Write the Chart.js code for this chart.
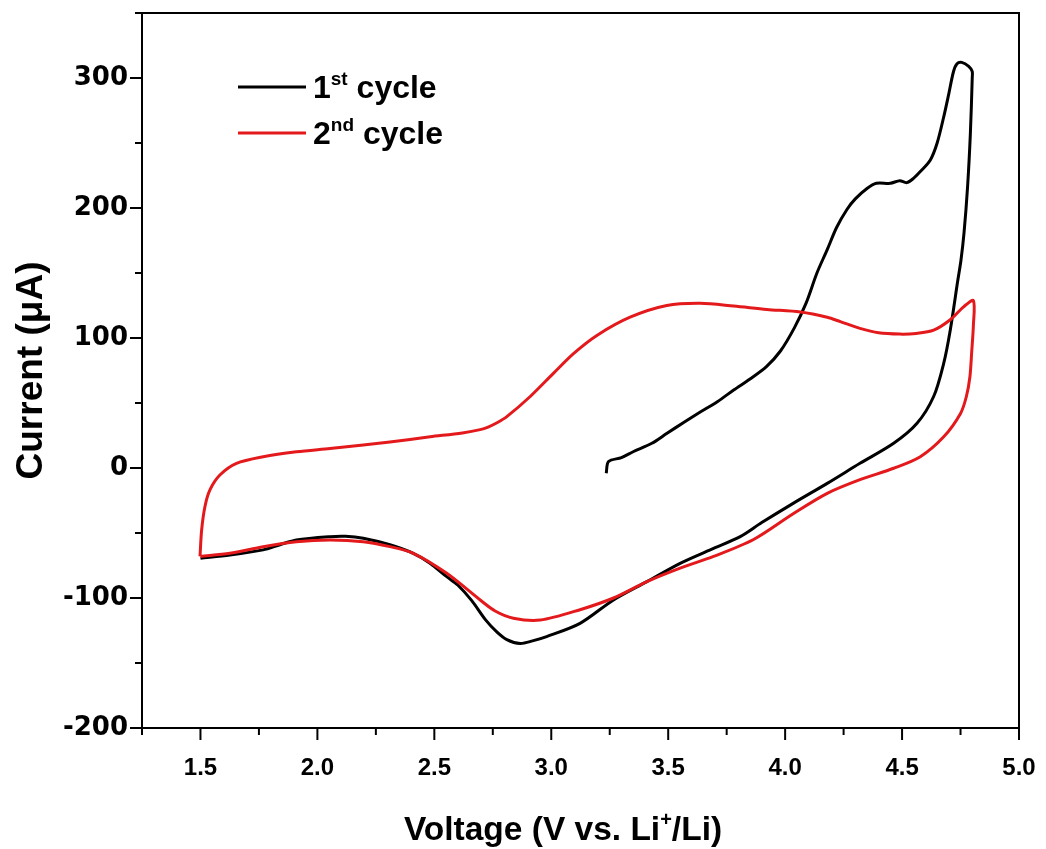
<!DOCTYPE html>
<html>
<head>
<meta charset="utf-8">
<script src="https://cdn.jsdelivr.net/npm/chart.js@4.4.1/dist/chart.umd.min.js"></script>
<style>
  html, body { margin: 0; padding: 0; background: #fff; }
</style>
</head>
<body>
<canvas id="cvChart" width="1046" height="849"></canvas>
<script>
// 1st cycle (black): OCV -> 4.8 V -> 1.5 V
const cycle1V = [3.235, 3.245, 3.30, 3.35, 3.43, 3.495, 3.566, 3.637, 3.71, 3.78, 3.85, 3.92, 3.98, 4.04, 4.09, 4.136, 4.18, 4.22, 4.265, 4.30, 4.35, 4.39, 4.45, 4.49, 4.52, 4.55, 4.578, 4.621, 4.65, 4.678, 4.70, 4.72, 4.735, 4.755, 4.785, 4.80,
                 4.80, 4.792, 4.78, 4.765, 4.752, 4.738, 4.706, 4.678, 4.635, 4.564, 4.464, 4.32, 4.18, 4.036, 3.90, 3.808, 3.694, 3.551, 3.409, 3.266, 3.123, 2.98, 2.92, 2.867, 2.81, 2.767, 2.72, 2.66, 2.60, 2.553, 2.48, 2.41, 2.31, 2.196, 2.12, 2.054, 1.91, 1.84, 1.768, 1.626, 1.50];
const cycle1I = [-4, 5, 8, 12.5, 19, 26.7, 35, 43, 51, 60, 68.5, 78, 90, 108, 127, 150, 168, 185, 199, 207, 215, 219, 219, 221, 219.5, 223, 228, 237, 250, 270, 288, 305, 311, 312, 309, 305,
                 300, 257, 216, 181, 160, 144, 106, 80.5, 55, 34.4, 19, 3.6, -11.8, -27, -42, -52.8, -61.8, -73.3, -87.4, -101.5, -119.5, -129.7, -133, -135, -132, -126, -117, -102, -90, -83.6, -73, -65.6, -59, -54, -52.5, -52.8, -55.4, -59, -63, -67, -69.5];

// 2nd cycle (red): 1.5 V -> 4.8 V -> 1.5 V
const cycle2V = [1.498, 1.505, 1.519, 1.54, 1.583, 1.654, 1.768, 1.91, 2.054, 2.196, 2.31, 2.482, 2.62, 2.696, 2.73, 2.77, 2.81, 2.91, 3.009, 3.095, 3.195, 3.337, 3.494, 3.637, 3.78, 3.922, 4.065, 4.18, 4.236, 4.32, 4.40, 4.49, 4.56, 4.635, 4.706, 4.763, 4.805,
                 4.805, 4.798, 4.79, 4.775, 4.75, 4.678, 4.578, 4.464, 4.32, 4.18, 4.036, 3.865, 3.694, 3.551, 3.409, 3.266, 3.123, 2.953, 2.838, 2.76, 2.696, 2.553, 2.41, 2.31, 2.196, 2.054, 1.91, 1.768, 1.626, 1.50];
const cycle2I = [-68, -47.7, -29.8, -17, -5.4, 3.6, 8.7, 12.5, 15, 17.7, 20, 24, 27, 29.5, 31.5, 35, 39.5, 55, 72.8, 88, 102, 116, 125, 126.7, 124.6, 122, 120, 116, 112.6, 107.4, 104, 103, 103.5, 106, 114, 124, 128.7,
                 110, 90, 70, 55, 42, 24, 8.7, -0.2, -9, -19.5, -35, -55, -68, -77, -87.4, -100, -109, -117, -115.6, -110, -101.5, -81, -65.6, -60.5, -56.7, -55.4, -56.7, -60.5, -65.6, -68];

const seriesNames = [['1', 'st', ' cycle'], ['2', 'nd', ' cycle']];
const seriesColors = ['#000000', '#e3191c'];
const xTitleRuns = [['Voltage (V vs. Li', false], ['+', true], ['/Li)', false]];

const toPoints = (xs, ys) => xs.map((v, i) => ({ x: v, y: ys[i] }));

const MAIN_FONT = '"Liberation Sans", Arial, sans-serif';

// draw text pieces with superscripts, starting at x (left) or centered
function drawRuns(ctx, runs, x, y, size, center) {
  const supSize = Math.round(size * 0.6);
  let total = 0;
  runs.forEach(([t, sup]) => {
    ctx.font = 'bold ' + (sup ? supSize : size) + 'px ' + MAIN_FONT;
    total += ctx.measureText(t).width;
  });
  let cx = center ? x - total / 2 : x;
  runs.forEach(([t, sup]) => {
    ctx.font = 'bold ' + (sup ? supSize : size) + 'px ' + MAIN_FONT;
    ctx.fillText(t, cx, sup ? y - size * 0.42 : y);
    cx += ctx.measureText(t).width;
  });
}

const framePlugin = {
  id: 'frameAndExtras',
  afterDraw(chart) {
    const { ctx, chartArea: a, scales } = chart;
    ctx.save();
    ctx.strokeStyle = '#000';
    ctx.lineWidth = 2;
    ctx.strokeRect(a.left, a.top, a.right - a.left, a.bottom - a.top);

    // outward ticks, major ones longer
    scales.x.ticks.forEach(t => {
      const px = scales.x.getPixelForValue(t.value);
      const len = t.label !== '' ? 12 : 7;
      ctx.beginPath(); ctx.moveTo(px, a.bottom); ctx.lineTo(px, a.bottom + len); ctx.stroke();
    });
    scales.y.ticks.forEach(t => {
      const py = scales.y.getPixelForValue(t.value);
      const len = t.label !== '' ? 12 : 7;
      ctx.beginPath(); ctx.moveTo(a.left, py); ctx.lineTo(a.left - len, py); ctx.stroke();
    });

    // legend
    ctx.fillStyle = '#000';
    ctx.textBaseline = 'alphabetic';
    ctx.textAlign = 'left';
    seriesNames.forEach((n, i) => {
      const ly = 87 + i * 46;
      ctx.strokeStyle = seriesColors[i];
      ctx.lineWidth = 3;
      ctx.beginPath(); ctx.moveTo(238, ly); ctx.lineTo(306, ly); ctx.stroke();
      drawRuns(ctx, [[n[0], false], [n[1], true], [n[2], false]], 313, ly + 11, 32, false);
    });

    // x axis title
    drawRuns(ctx, xTitleRuns, 563, 840, 33.5, true);
    ctx.restore();
  }
};

new Chart(document.getElementById('cvChart'), {
  type: 'scatter',
  data: {
    datasets: [
      { label: '1st cycle', data: toPoints(cycle1V, cycle1I), borderColor: seriesColors[0], order: 2 },
      { label: '2nd cycle', data: toPoints(cycle2V, cycle2I), borderColor: seriesColors[1], order: 1 }
    ]
  },
  options: {
    responsive: false,
    animation: false,
    devicePixelRatio: 1,
    showLine: true,
    layout: { padding: { top: 13, right: 27, left: 0, bottom: 0 } },
    elements: {
      line: { borderWidth: 3, tension: 0.3, fill: false },
      point: { radius: 0, hoverRadius: 0 }
    },
    plugins: { legend: { display: false }, tooltip: { enabled: false } },
    scales: {
      x: {
        type: 'linear', min: 1.25, max: 5.0,
        grid: { display: false, drawTicks: false },
        border: { display: false },
        ticks: {
          stepSize: 0.25, autoSkip: false, maxRotation: 0, padding: 26, color: '#000',
          font: { family: MAIN_FONT, size: 24, weight: 'bold' },
          callback: v => Math.round(v * 100) % 50 === 0 ? v.toFixed(1) : ''
        },
        afterFit: s => { s.height = 121; s.paddingLeft = 0; s.paddingRight = 0; }
      },
      y: {
        type: 'linear', min: -200, max: 350,
        grid: { display: false, drawTicks: false },
        border: { display: false },
        ticks: {
          stepSize: 50, autoSkip: false, padding: 14, color: '#000',
          font: { family: '"DejaVu Sans", sans-serif', size: 26, weight: 'bold' },
          callback: v => v % 100 === 0 ? String(v) : ''
        },
        title: {
          display: true, text: 'Current (μA)', color: '#000',
          font: { family: MAIN_FONT, size: 37, weight: 'bold' },
          padding: { top: 10, bottom: 0 }
        },
        afterFit: s => { s.width = 142; s.paddingTop = 0; s.paddingBottom = 0; }
      }
    }
  },
  plugins: [framePlugin]
});
</script>
</body>
</html>
